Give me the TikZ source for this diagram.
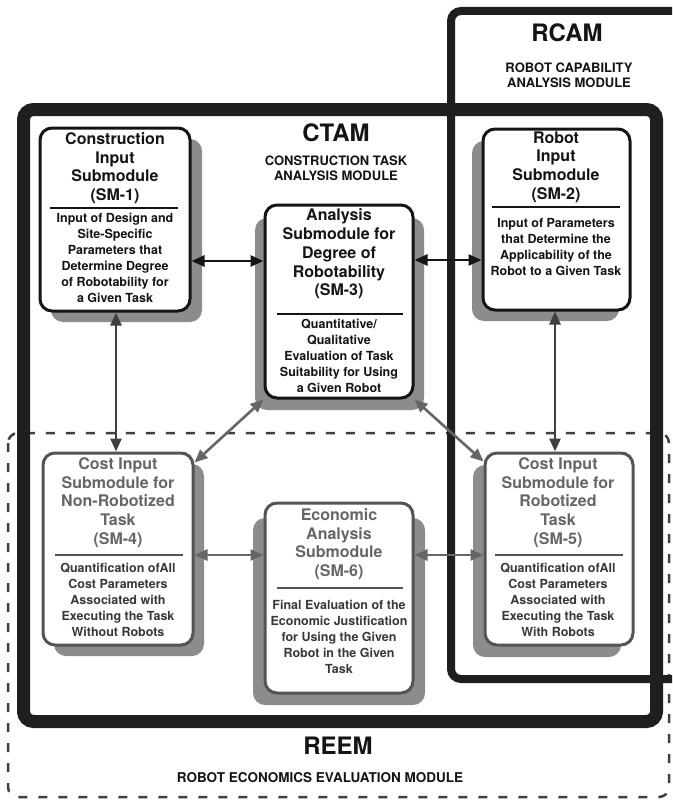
\documentclass[tikz,border=0pt]{standalone}
\usepackage{fontspec}
\setmainfont{TeX Gyre Heros}
\usetikzlibrary{arrows.meta,calc}

\definecolor{ink}{gray}{0.08}
\definecolor{frame}{gray}{0.12}
\definecolor{lowtitle}{gray}{0.40}
\definecolor{lowtext}{gray}{0.22}
\definecolor{lowline}{gray}{0.33}
\definecolor{arrgray}{gray}{0.40}
\definecolor{shade}{gray}{0.55}

\begin{document}
\begin{tikzpicture}[x=1pt,y=-1pt,
  smbox/.style={draw=ink, line width=3pt, rounded corners=12pt, fill=white, inner sep=0pt},
  lowbox/.style={smbox, draw=lowline},
  shadowbox/.style={fill=shade, rounded corners=12pt},
  ttl/.style={align=center, inner sep=0pt, text=ink, font={\bfseries\fontsize{16}{18.7}\selectfont}},
  dsc/.style={align=center, inner sep=0pt, text=ink, font={\bfseries\fontsize{12.5}{16}\selectfont}},
  modname/.style={inner sep=0pt, text=ink, font={\bfseries\fontsize{24}{28}\selectfont}},
  modsub/.style={align=center, inner sep=0pt, text=ink, font={\bfseries\fontsize{13}{15}\selectfont}},
  sep/.style={line width=2pt},
  dbl/.style={line width=2.6pt, {Triangle[length=13pt,width=11pt]}-{Triangle[length=13pt,width=11pt]}}
]
\clip (0,0) rectangle (672,800);
\fill[white] (0,0) rectangle (672,800);

% module frames
\draw[black!75, line width=2.5pt, dash pattern=on 9pt off 11pt, rounded corners=10pt]
  (8,433) rectangle (669,797);
\draw[frame, line width=8pt, rounded corners=10pt] (451,11) rectangle (690,679);
\draw[frame, line width=13pt, rounded corners=10pt] (23.5,109.5) rectangle (656.5,721.5);

% module titles
\node[modname] (ctam) at (336,133) {CTAM};
\node[modsub] (ctamsub) at (336,168) {CONSTRUCTION TASK\\ANALYSIS MODULE};
\node[modname] (rcam) at (567,33) {RCAM};
\node[modsub] (rcamsub) at (569,75) {ROBOT CAPABILITY\\ANALYSIS MODULE};
\node[modname] (reem) at (338,746) {REEM};
\node[modsub, font={\bfseries\fontsize{13.5}{15}\selectfont}] (reemsub) at (320,778) {ROBOT ECONOMICS EVALUATION MODULE};

% shadows
\path[shadowbox] (51,139) rectangle (202,322);
\path[shadowbox] (472,141) rectangle (619,321);
\path[shadowbox] (255,218) rectangle (424,410);
\path[shadowbox] (54,464) rectangle (204,656);
\path[shadowbox] (473,465) rectangle (621,657);
\path[shadowbox] (253,518) rectangle (425,705);

% submodule boxes
\node[smbox, minimum width=150pt, minimum height=183pt] (sm1) at (115,219.5) {};
\node[smbox, minimum width=147pt, minimum height=181pt] (sm2) at (556.5,219.5) {};
\node[smbox, minimum width=148pt, minimum height=193pt] (sm3) at (339,301.5) {};
\node[lowbox, minimum width=150pt, minimum height=192pt] (sm4) at (118,549) {};
\node[lowbox, minimum width=148pt, minimum height=192pt] (sm5) at (559,549) {};
\node[lowbox, minimum width=148pt, minimum height=190pt] (sm6) at (339,598) {};

% SM-1
\node[ttl] (sm1t) at (115,168) {Construction\\Input\\Submodule\\(SM-1)};
\draw[sep, ink] (50,208) -- (178,208);
\node[dsc] (sm1d) at (115,258) {Input of Design and\\Site-Specific\\Parameters that\\Determine Degree\\of Robotability for\\a Given Task};

% SM-2
\node[ttl] (sm2t) at (556,167) {Robot\\Input\\Submodule\\(SM-2)};
\draw[sep, ink] (492,207) -- (620,207);
\node[dsc] (sm2d) at (556,247.5) {Input of Parameters\\that Determine the\\Applicability of the\\Robot to a Given Task};

% SM-3
\node[ttl] (sm3t) at (339,254) {Analysis\\Submodule for\\Degree of\\Robotability\\(SM-3)};
\draw[sep, ink] (277,314) -- (403,314);
\node[dsc] (sm3d) at (339,356) {Quantitative/\\Qualitative\\Evaluation of Task\\Suitability for Using\\a Given Robot};

% SM-4
\node[ttl, text=lowtitle] (sm4t) at (118,502.5) {Cost Input\\Submodule for\\Non-Robotized\\Task\\(SM-4)};
\draw[sep, lowline] (55,555) -- (183,555);
\node[dsc, text=lowtext] (sm4d) at (118,600) {Quantification ofAll\\Cost Parameters\\Associated with\\Executing the Task\\Without Robots};

% SM-5
\node[ttl, text=lowtitle] (sm5t) at (558,502.5) {Cost Input\\Submodule for\\Robotized\\Task\\(SM-5)};
\draw[sep, lowline] (495,555) -- (623,555);
\node[dsc, text=lowtext] (sm5d) at (558,600) {Quantification ofAll\\Cost Parameters\\Associated with\\Executing the Task\\With Robots};

% SM-6
\node[ttl, text=lowtitle] (sm6t) at (339,544) {Economic\\Analysis\\Submodule\\(SM-6)};
\draw[sep, lowline] (277,588) -- (403,588);
\node[dsc, text=lowtext] (sm6d) at (339,636.5) {Final Evaluation of the\\Economic Justification\\for Using the Given\\Robot in the Given\\Task};

% connectors
\draw[dbl, ink] ($(sm1.east)+(0,41.5)$) -- ($(sm3.west)+(0,-40.5)$);
\draw[dbl, ink] ($(sm3.east)+(0,-41.5)$) -- ($(sm2.west)+(0,40.5)$);
\draw[dbl, black!75] ($(sm1.south)+(1,0)$) -- ($(sm4.north)+(-2,0)$);
\draw[dbl, black!75] ($(sm2.south)+(-1.5,0)$) -- ($(sm5.north)+(-4,0)$);
\draw[dbl, arrgray] (sm3.south west) -- ($(sm4.north east)+(0,11)$);
\draw[dbl, arrgray] (sm3.south east) -- ($(sm5.north west)+(0,10)$);
\draw[dbl, arrgray] ($(sm4.east)+(0,6)$) -- ($(sm6.west)+(0,-43)$);
\draw[dbl, arrgray] ($(sm6.east)+(0,-43)$) -- ($(sm5.west)+(0,6)$);
\end{tikzpicture}
\end{document}
